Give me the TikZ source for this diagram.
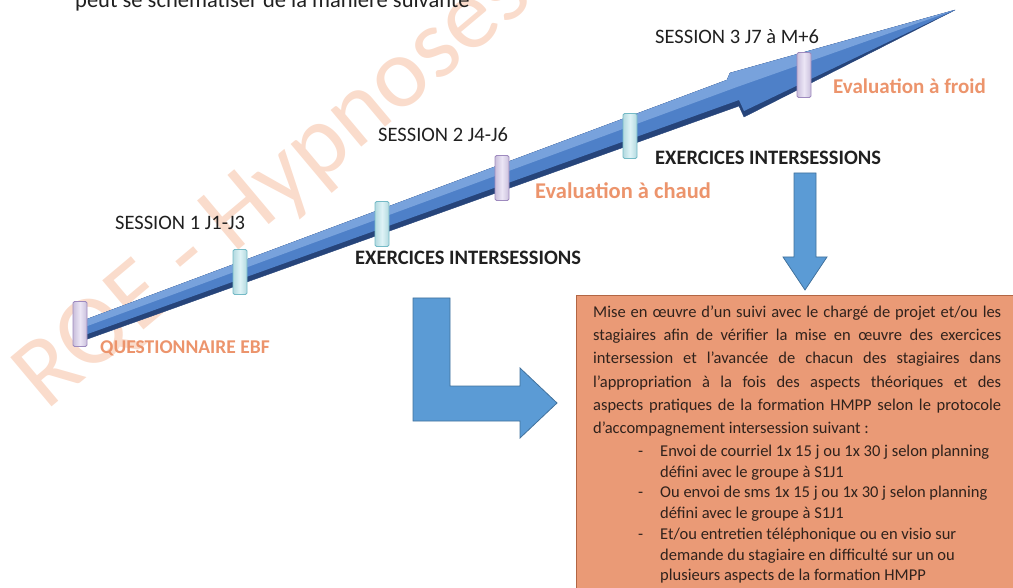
\documentclass[tikz,border=0pt]{standalone}
\usepackage{fontspec}
\setmainfont{Carlito}

\definecolor{bardark}{RGB}{38,68,122}
\definecolor{barface}{RGB}{78,128,200}
\definecolor{barlight}{RGB}{120,162,220}
\definecolor{arrowfill}{RGB}{91,155,213}
\definecolor{arrowedge}{RGB}{65,113,156}
\definecolor{lilac}{RGB}{236,230,246}
\definecolor{lilacedge}{RGB}{158,138,190}
\definecolor{aqua}{RGB}{222,243,246}
\definecolor{aquaedge}{RGB}{116,186,198}
\definecolor{boxfill}{RGB}{234,154,118}
\definecolor{boxedge}{RGB}{178,102,68}
\definecolor{boxtext}{RGB}{48,34,28}
\definecolor{labelgray}{RGB}{32,32,32}
\definecolor{evalorange}{RGB}{236,148,108}
\definecolor{wmorange}{RGB}{250,220,204}

\tikzset{
  sesstext/.style={font=\fontsize{20.5}{24}\selectfont,text=labelgray,inner sep=0pt,anchor=base west},
  exotext/.style={sesstext,font=\fontsize{20.5}{24}\selectfont\bfseries},
  evaltext/.style={font=\fontsize{#1}{24}\selectfont\bfseries,text=evalorange,inner sep=0pt,anchor=base west},
  sessmark/.style 2 args={draw=#2,line width=0.8pt,left color=#2!55!white,right color=#2!55!white,middle color=#1,
    rounded corners=1.5pt,minimum width=14pt,minimum height=45pt,inner sep=0pt},
  blockarrow/.style={fill=arrowfill,draw=arrowedge,line width=0.8pt},
  boxline/.style={font=\fontsize{16.5}{19}\selectfont,text=boxtext,inner sep=0pt,anchor=base west}
}

\begin{document}
\begin{tikzpicture}[x=1pt,y=-1pt]
\clip (0,0) rectangle (1013,588);

% filigrane
\node[font=\fontsize{100}{110}\selectfont,text=wmorange,rotate=40] (wm) at (275,188) {RQE - Hypnoses};

\node[font=\fontsize{22.5}{26}\selectfont,text=labelgray,inner sep=0pt,anchor=base west] (intro) at (75,8) {peut se schématiser de la manière suivante};

% fleche du parcours
\draw[fill=bardark,draw=bardark] (82,321) -- (727,80) -- (730,73) -- (955,10) -- (744,117) -- (739,106) -- (82,341) -- cycle;
\fill[barface] (82,321) -- (727,80) -- (730,73) -- (955,10) -- (744,111) -- (739,100) -- (82,336) -- cycle;
\fill[barlight] (82,321) -- (727,80) -- (730,73) -- (955,10) -- (737,87) -- (82,328) -- cycle;

\foreach \x/\y/\fc/\dc [count=\n] in {80/324/lilac/lilacedge,240/272/aqua/aquaedge,382/224/aqua/aquaedge,502/178/lilac/lilacedge,630/136/aqua/aquaedge,804/75/lilac/lilacedge}
  \node[sessmark={\fc}{\dc}] (m\n) at (\x,\y) {};

\node[sesstext] (s1) at (115,230) {SESSION 1 J1-J3};
\node[evaltext=19.5] (ebf) at (100,353) {QUESTIONNAIRE EBF};
\node[exotext] (exo1) at (355,265) {EXERCICES INTERSESSIONS};
\node[sesstext] (s2) at (378,142) {SESSION 2 J4-J6};
\node[evaltext=22.5] (chaud) at (535,199) {Evaluation à chaud};
\node[sesstext] (s3) at (655,44) {SESSION 3 J7 à M+6};
\node[evaltext=21] (froid) at (833,94) {Evaluation à froid};
\node[exotext] (exo2) at (655,165) {EXERCICES INTERSESSIONS};

% fleches vers le suivi
\draw[blockarrow] (413,298) -- (450,298) -- (450,386) -- (520,386) -- (520,368) -- (557,403) -- (520,438) -- (520,421) -- (413,421) -- cycle;
\draw[blockarrow] (794,173) -- (816,173) -- (816,257) -- (827,257) -- (805,290) -- (783,257) -- (794,257) -- cycle;

% cadre du suivi
\node[draw=boxedge,fill=boxfill,line width=1pt,minimum width=460pt,minimum height=320pt,anchor=north west] (suivi) at (576,295) {};

\foreach \txt [count=\n] in {{Mise en œuvre d’un suivi avec le chargé de projet et/ou les},{stagiaires afin de vérifier la mise en œuvre des exercices},{intersession et l’avancée de chacun des stagiaires dans},{l’appropriation à la fois des aspects théoriques et des},{aspects pratiques de la formation HMPP selon le protocole}}
  \node[boxline] (par\n) at (593,294.3+\n*23.2) {\makebox[408pt][s]{\txt}};
\node[boxline] (par6) at (593,433.5) {d’accompagnement intersession suivant :};

\foreach \txt [count=\n] in {{Envoi de courriel 1x 15 j ou 1x 30 j selon planning},{défini avec le groupe à S1J1},{Ou envoi de sms 1x 15 j ou 1x 30 j selon planning},{défini avec le groupe à S1J1},{Et/ou entretien téléphonique ou en visio sur},{demande du stagiaire en difficulté sur un ou},{plusieurs aspects de la formation HMPP}}
  \node[boxline] (item\n) at (660,435.8+\n*20.7) {\txt};
\foreach \n in {1,3,5}
  \node[boxline] (dash\n) at (638,435.8+\n*20.7) {-};
\end{tikzpicture}
\end{document}
